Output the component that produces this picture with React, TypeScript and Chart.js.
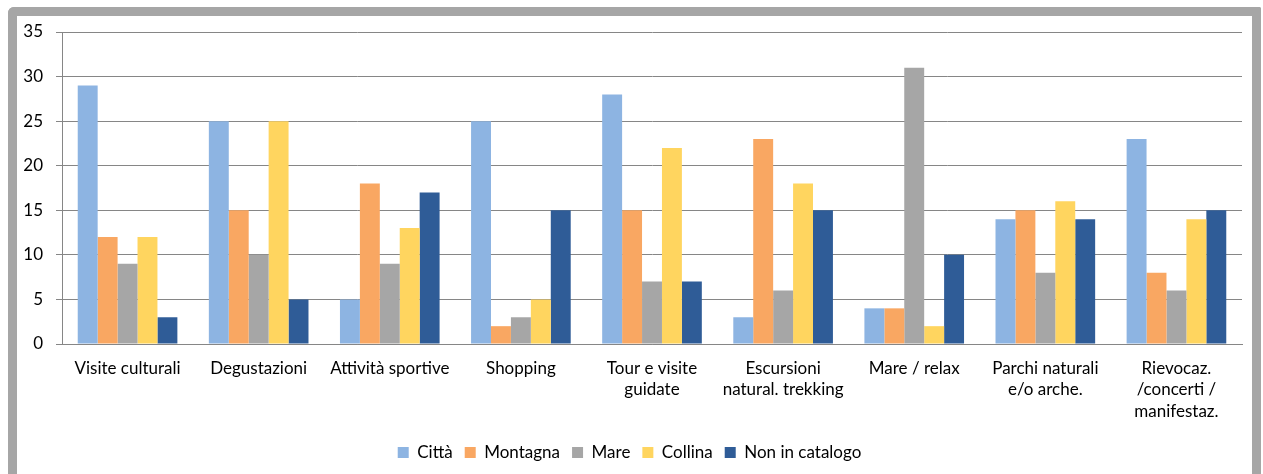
import React, { useEffect, useRef } from "react";
import { Chart, registerables } from "chart.js";

Chart.register(...registerables);

const categories: (string | string[])[] = [
  "Visite culturali",
  "Degustazioni",
  "Attività sportive",
  "Shopping",
  ["Tour e visite", "guidate"],
  ["Escursioni", "natural. trekking"],
  "Mare / relax",
  ["Parchi naturali", "e/o arche."],
  ["Rievocaz.", "/concerti /", "manifestaz."],
];

const citta = [29, 25, 5, 25, 28, 3, 4, 14, 23];
const montagna = [12, 15, 18, 2, 15, 23, 4, 15, 8];
const mare = [9, 10, 9, 3, 7, 6, 31, 8, 6];
const collina = [12, 25, 13, 5, 22, 18, 2, 16, 14];
const nonInCatalogo = [3, 5, 17, 15, 7, 15, 10, 14, 15];

const seriesNames = ["Città", "Montagna", "Mare", "Collina", "Non in catalogo"];
const seriesColors = ["#8db4e2", "#f9a762", "#a6a6a6", "#ffd55f", "#2f5c97"];

const yTicks = [0, 5, 10, 15, 20, 25, 30, 35];

const FONT = "Lato, 'Open Sans', sans-serif";

export default function App() {
  const ref = useRef<HTMLCanvasElement | null>(null);

  useEffect(() => {
    if (!ref.current) return;
    const values = [citta, montagna, mare, collina, nonInCatalogo];
    const chart = new Chart(ref.current, {
      type: "bar",
      data: {
        labels: categories,
        datasets: values.map((v, i) => ({
          label: seriesNames[i],
          data: v,
          backgroundColor: seriesColors[i],
          borderWidth: 0,
          categoryPercentage: 0.76,
          barPercentage: 1.0,
        })),
      },
      options: {
        animation: false,
        responsive: false,
        maintainAspectRatio: false,
        layout: { padding: { left: 0, right: 10, top: 16, bottom: 3 } },
        plugins: {
          tooltip: { enabled: false },
          legend: {
            position: "bottom",
            labels: {
              boxWidth: 11,
              boxHeight: 11,
              padding: 12,
              color: "#000",
              font: { family: FONT, size: 17 },
            },
          },
        },
        scales: {
          x: {
            grid: { display: false, drawTicks: false },
            border: { display: true, color: "#868686", width: 1 },
            ticks: {
              color: "#000",
              font: { family: FONT, size: 17, lineHeight: 1.25 },
              padding: 14,
              maxRotation: 0,
              autoSkip: false,
            },
            afterFit: (scale: any) => {
              scale.height = 88;
            },
          },
          y: {
            min: 0,
            max: 35,
            afterBuildTicks: (scale: any) => {
              scale.ticks = yTicks.map((v) => ({ value: v }));
            },
            grid: {
              color: "#868686",
              lineWidth: 1,
              drawTicks: true,
              tickLength: 6,
            },
            border: { display: true, color: "#868686", width: 1 },
            ticks: {
              color: "#000",
              font: { family: FONT, size: 17 },
              padding: 13,
            },
            afterFit: (scale: any) => {
              scale.width = 45;
              scale.paddingTop = 0;
              scale.paddingBottom = 0;
            },
          },
        },
      },
    });
    return () => chart.destroy();
  }, []);

  return (
    <div
      style={{
        position: "absolute",
        left: 8,
        top: 7,
        width: 1235,
        height: 458,
        borderTop: "9px solid #a6a6a6",
        borderLeft: "9px solid #a6a6a6",
        borderRight: "9px solid #a6a6a6",
        borderTopLeftRadius: 6,
        borderTopRightRadius: 2,
        background: "#fff",
      }}
    >
      <canvas
        ref={ref}
        width={1235}
        height={458}
        style={{ display: "block", width: 1235, height: 458 }}
      />
    </div>
  );
}
